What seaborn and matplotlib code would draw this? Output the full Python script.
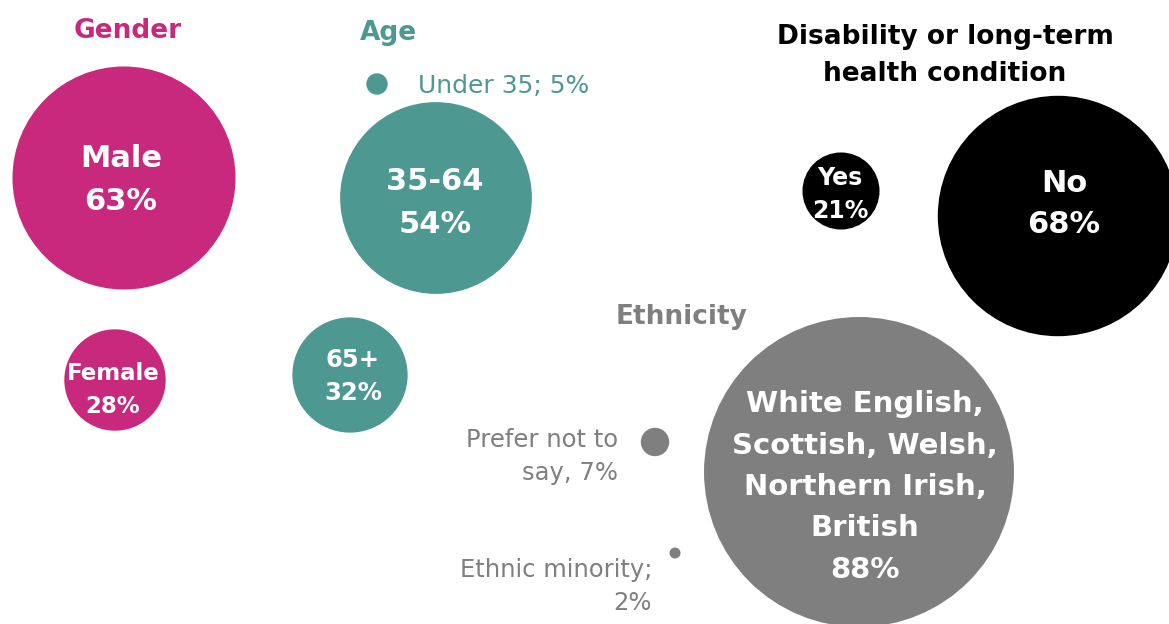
import seaborn as sns
import matplotlib.pyplot as plt
import pandas as pd

# bubble data (x / y are positions on the 1169 x 624 canvas, y downwards)
groups = ["Gender", "Gender", "Age", "Age", "Age", "Disability", "Disability",
          "Ethnicity", "Ethnicity", "Ethnicity"]
labels = ["Male", "Female", "Under 35", "35-64", "65+", "Yes", "No",
          "White English,\nScottish, Welsh,\nNorthern Irish,\nBritish",
          "Prefer not to say", "Ethnic minority"]
values = [63, 28, 5, 54, 32, 21, 68, 88, 7, 2]
xpos = [124, 115, 377, 436, 350, 841, 1058, 859, 655, 675]
ypos = [178, 380, 84, 198, 375, 191, 216, 472, 442, 553]

group_titles = ["Gender", "Age", "Disability or long-term\nhealth condition", "Ethnicity"]
title_colors = ["#C8297C", "#4E9892", "#000000", "#7F7F7F"]
palette = {"Gender": "#C8297C", "Age": "#4E9892", "Disability": "#000000",
           "Ethnicity": "#7F7F7F"}

df = pd.DataFrame({"group": groups, "label": labels, "value": values,
                   "x": xpos, "y": ypos})
df["area"] = df["value"] ** 2  # bubble diameter proportional to value

sns.set_style("white")
plt.rcParams["font.family"] = ["DejaVu Sans"]

fig = plt.figure(figsize=(11.69, 6.24), dpi=100)
ax = fig.add_axes([0, 0, 1, 1])
sns.scatterplot(data=df, x="x", y="y", hue="group", palette=palette,
                size="area", sizes=(0, 62650), size_norm=(0, 10000),
                linewidth=2.9, edgecolor="face", legend=False, ax=ax)
ax.set_xlim(0, 1169)
ax.set_ylim(624, 0)
ax.axis("off")


def draw_lines(x, y0, lines, gap, **kw):
    for i, line in enumerate(lines):
        ax.text(x, y0 + i * gap, line, va="baseline", **kw)


# group titles
title_pos = [(128, 38), (388, 40), (945, 44), (682, 324)]
for t, (tx, ty), c in zip(group_titles, title_pos, title_colors):
    draw_lines(tx, ty, t.split("\n"), 37, ha="center", color=c,
               fontsize=19, fontweight="bold")

# labels inside the bubbles: (dx, first baseline offset, line gap, fontsize)
inside = {"Male": (-3, -11, 43, 22), "35-64": (-1, -8, 43, 22),
          "No": (6, -24, 41, 22), "Female": (-2, 0, 33, 16.5),
          "65+": (3, -8, 33, 17.5), "Yes": (-1, -6, 33, 17),
          "White English,\nScottish, Welsh,\nNorthern Irish,\nBritish": (6, -60, 41.5, 21)}
for _, r in df.iterrows():
    if r["label"] not in inside:
        continue
    dx, dy, gap, fs = inside[r["label"]]
    lines = r["label"].split("\n") + [f"{r['value']}%"]
    draw_lines(r["x"] + dx, r["y"] + dy, lines, gap, ha="center",
               color="white", fontsize=fs, fontweight="bold")

# labels beside the small bubbles
ax.text(418, 93, f"{labels[2]}; {values[2]}%", ha="left", va="baseline",
        color="#4E9892", fontsize=18)
draw_lines(618, 447, ["Prefer not to", f"say, {values[8]}%"], 33, ha="right",
           color="#7F7F7F", fontsize=17.5)
draw_lines(652, 577, [f"{labels[9]};", f"{values[9]}%"], 33, ha="right",
           color="#7F7F7F", fontsize=17.5)

fig.savefig("out.png", dpi=100)
